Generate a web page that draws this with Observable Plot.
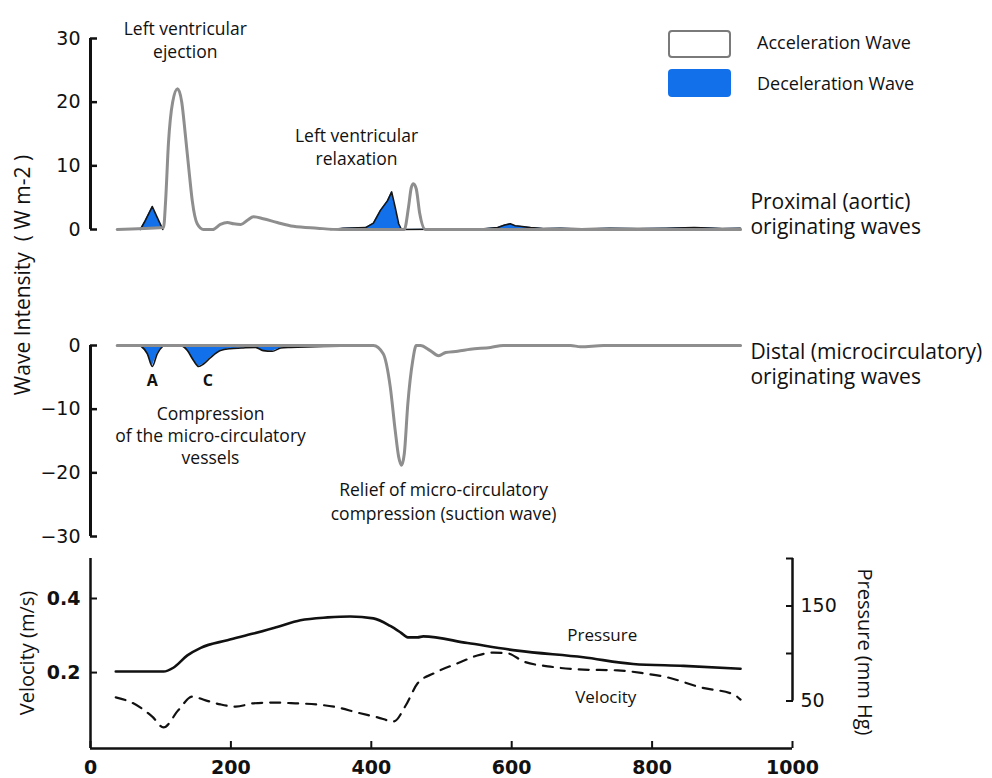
<!DOCTYPE html>
<html>
<head>
<meta charset="utf-8">
<script src="https://cdn.jsdelivr.net/npm/d3@7"></script>
<script src="https://cdn.jsdelivr.net/npm/@observablehq/plot@0.6"></script>
<style>
  body { margin: 0; background: #fff; }
  #chart { position: relative; width: 992px; height: 778px; overflow: hidden; font-family: "Open Sans", sans-serif; color: #111; background: #fff; }
  #chart svg { position: absolute; left: 0; }
  .vt { position: absolute; white-space: nowrap; font-size: 20px; transform: translate(-50%, -50%) rotate(-90deg); }
  .vt.big { font-size: 21px; }
  .vt.cw { transform: translate(-50%, -50%) rotate(90deg); }
  .key { position: absolute; left: 668px; width: 63px; height: 28px; box-sizing: border-box; border-radius: 4px; }
  .keytext { position: absolute; left: 757px; font-size: 18px; line-height: 1; white-space: nowrap; }
</style>
</head>
<body>
<div id="chart"></div>
<script>
// ---------- data ----------
const xDomain = [0, 1000];
const xTicks = [0, 200, 400, 600, 800, 1000];

// Proximal (aortic) originating waves, W m-2
const proxAccelT = [38, 104, 107, 111, 117, 124, 130, 135, 141, 145, 152, 161, 174, 185, 195, 204, 214, 224, 232, 246, 266, 289, 323, 356, 447, 453, 457, 460, 464, 469, 477, 926];
const proxAccelW = [0, 0.3, 4.5, 13.5, 20, 22.1, 20, 15, 8.5, 4.5, 0.9, 0, 0, 0.8, 1.1, 0.9, 0.8, 1.5, 2.0, 1.7, 1.1, 0.5, 0.2, 0, 0, 3.5, 6.6, 7.2, 6.4, 2.5, 0, 0];
const proxDecelT = [38, 71, 78, 88, 95, 103, 342, 360, 392, 403, 413, 423, 429, 434, 439, 443, 560, 580, 590, 598, 605, 612, 627, 645, 670, 700, 740, 780, 820, 860, 900, 926];
const proxDecelW = [0, 0, 1.4, 3.6, 1.9, 0, 0, 0.2, 0.3, 1.0, 3.0, 4.5, 5.9, 3.5, 0.9, 0, 0.1, 0.3, 0.7, 0.9, 0.6, 0.5, 0.3, 0.15, 0.2, 0.1, 0.2, 0.15, 0.2, 0.3, 0.15, 0.2];
const proxDomain = [0, 30];
const proxTicks = [0, 10, 20, 30];

// Distal (microcirculatory) originating waves, W m-2
const distAccelT = [38, 403, 417, 427, 434, 439, 443, 447, 452, 459, 464, 470, 484, 496, 506, 523, 541, 570, 588, 684, 698, 731, 926];
const distAccelW = [0, 0, -1.3, -6.5, -13.3, -17.5, -18.8, -17, -9.2, -2.4, 0, 0, -0.8, -1.6, -1.1, -0.9, -0.6, -0.3, 0, 0, -0.2, 0, 0];
const distDecelT = [38, 71, 81, 88, 95, 104, 125, 131, 138, 147, 154, 161, 171, 185, 199, 215, 235, 246, 259, 271, 285, 320, 356, 380, 926];
const distDecelW = [0, 0, -1.3, -3.3, -1.3, 0, 0, -0.1, -0.8, -2.4, -3.3, -2.9, -1.9, -0.8, -0.5, -0.4, -0.3, -0.8, -0.9, -0.4, -0.3, -0.2, -0.1, 0, 0];
const distDomain = [-30, 0];
const distTicks = [0, -10, -20, -30];

// Velocity (m/s) and pressure (mm Hg)
const velT = [36, 61, 88, 104, 125, 145, 164, 185, 207, 232, 261, 292, 322, 352, 380, 409, 432, 449, 466, 489, 523, 551, 574, 594, 617, 655, 702, 751, 788, 822, 869, 916, 926];
const velV = [0.133, 0.117, 0.081, 0.052, 0.098, 0.135, 0.125, 0.114, 0.108, 0.117, 0.119, 0.117, 0.114, 0.106, 0.092, 0.079, 0.068, 0.111, 0.171, 0.198, 0.225, 0.246, 0.254, 0.252, 0.230, 0.216, 0.208, 0.206, 0.198, 0.187, 0.160, 0.141, 0.127];
const presT = [36, 104, 118, 138, 157, 195, 232, 266, 299, 338, 370, 403, 427, 442, 452, 466, 474, 537, 608, 702, 773, 845, 926];
const presP = [81, 81, 85, 98, 106, 114, 121, 128, 135, 138, 139, 137, 129, 122, 117, 117, 118, 111, 103, 96, 89, 87, 84];
const velDomain = [-0.005, 0.508];
const velTicks = [0.2, 0.4];
const presDomain = [0, 200];
const presTicks = [50, 100, 150, 200];
const presTickLabels = [50, 150];

// Text
const proxNotes = ["Left ventricular\nejection", "Left ventricular\nrelaxation"];
const proxSide = ["Proximal (aortic)\noriginating waves"];
const distNotes = ["A", "C", "Compression\nof the micro-circulatory\nvessels", "Relief of micro-circulatory\ncompression (suction wave)"];
const distSide = ["Distal (microcirculatory)\noriginating waves"];
const lineNames = ["Pressure", "Velocity"];
const legendNames = ["Acceleration Wave", "Deceleration Wave"];
const yTitles = ["Wave Intensity\u00a0\u00a0( W m-2 )", "Velocity (m/s)", "Pressure (mm Hg)"];

// ---------- build ----------
const rows = (T, V, key) => T.map((t, i) => ({t, [key]: V[i]}));
// outline of the deceleration waves: break the line wherever it rests on the baseline
const outline = (R) => {
  const out = [];
  R.forEach((r, i) => {
    if (i > 0 && r.w === 0 && R[i - 1].w === 0) out.push({t: r.t, w: NaN});
    out.push(r);
  });
  return out;
};
const proxAccel = rows(proxAccelT, proxAccelW, "w");
const proxDecel = rows(proxDecelT, proxDecelW, "w");
const distAccel = rows(distAccelT, distAccelW, "w");
const distDecel = rows(distDecelT, distDecelW, "w");
const velocity = rows(velT, velV, "v");
const pressure = rows(presT, presP, "p");
const pToV = d3.scaleLinear(presDomain, velDomain);

const BLUE = "#1170ea";
const GRAY = "#8e8e8e";
const tickFont = {fontFamily: "DejaVu Sans", fontWeight: "bold", fontSize: 18};
const noteFont = {fontFamily: "Open Sans", fontSize: 17.5, fill: "#111"};
const common = {
  width: 992, marginLeft: 90, marginRight: 200,
  x: {domain: xDomain, axis: null},
  style: {background: "transparent", overflow: "visible", color: "#111"}
};

const chart = document.getElementById("chart");

// Panel 1: proximal
const p1 = Plot.plot({
  ...common, height: 262, marginTop: 38, marginBottom: 33,
  y: {domain: proxDomain, axis: null},
  marks: [
    Plot.areaY(proxDecel, {x: "t", y: "w", fill: BLUE}),
    Plot.lineY(outline(proxDecel), {x: "t", y: "w", stroke: "#151515", strokeWidth: 1.6}),
    Plot.lineY(proxAccel, {x: "t", y: "w", stroke: GRAY, strokeWidth: 3, curve: "monotone-x"}),
    Plot.ruleX([xDomain[0]], {y1: proxDomain[0], y2: proxDomain[1], strokeWidth: 3}),
    Plot.axisY({ticks: proxTicks, tickSize: -7, tickPadding: 17, strokeWidth: 2.5, label: null, ...tickFont, fontWeight: "normal", fontSize: 19}),
    Plot.text([proxNotes[0]], {x: 135, y: 33.1, text: d => d, lineAnchor: "top", lineHeight: 1.31, ...noteFont}),
    Plot.text([proxNotes[1]], {x: 379, y: 16.4, text: d => d, lineAnchor: "top", lineHeight: 1.35, ...noteFont}),
    Plot.text(proxSide, {x: 940, y: 6.1, text: d => d, textAnchor: "start", lineAnchor: "top", lineHeight: 1.22, ...noteFont, fontSize: 21})
  ]
});
p1.style.top = "0px";
chart.appendChild(p1);

// Panel 2: distal
const p2 = Plot.plot({
  ...common, height: 288, marginTop: 83, marginBottom: 14,
  y: {domain: distDomain, axis: null},
  marks: [
    Plot.areaY(distDecel, {x: "t", y: "w", fill: BLUE}),
    Plot.lineY(outline(distDecel), {x: "t", y: "w", stroke: "#151515", strokeWidth: 1.6, curve: "monotone-x"}),
    Plot.lineY(distAccel, {x: "t", y: "w", stroke: GRAY, strokeWidth: 3, curve: "monotone-x"}),
    Plot.ruleX([xDomain[0]], {y1: distDomain[0], y2: distDomain[1], strokeWidth: 3}),
    Plot.axisY({ticks: distTicks, tickSize: -7, tickPadding: 17, strokeWidth: 2.5, label: null, ...tickFont, fontWeight: "normal", fontSize: 19}),
    Plot.text([distNotes[0]], {x: 88, y: -4.65, text: d => d, lineAnchor: "top", ...noteFont, fontSize: 16, fontWeight: "bold"}),
    Plot.text([distNotes[1]], {x: 167, y: -4.65, text: d => d, lineAnchor: "top", ...noteFont, fontSize: 16, fontWeight: "bold"}),
    Plot.text([distNotes[2]], {x: 171, y: -9.2, text: d => d, lineAnchor: "top", lineHeight: 1.26, ...noteFont}),
    Plot.text([distNotes[3]], {x: 503, y: -21.1, text: d => d, lineAnchor: "top", lineHeight: 1.33, ...noteFont}),
    Plot.text(distSide, {x: 940, y: 0.8, text: d => d, textAnchor: "start", lineAnchor: "top", lineHeight: 1.22, ...noteFont, fontSize: 21})
  ]
});
p2.style.top = "262px";
chart.appendChild(p2);

// Panel 3: velocity & pressure
const p3 = Plot.plot({
  ...common, height: 228, marginTop: 8, marginBottom: 30,
  y: {domain: velDomain, axis: null},
  marks: [
    Plot.ruleY([velDomain[0]], {x1: xDomain[0], x2: xDomain[1], strokeWidth: 2.5}),
    Plot.ruleX([xDomain[0]], {y1: velDomain[0], y2: velDomain[1], strokeWidth: 2.5}),
    Plot.ruleX([xDomain[1]], {y1: pToV(presTicks[0]), y2: pToV(presTicks[presTicks.length - 1]), strokeWidth: 2.5}),
    Plot.axisX({ticks: xTicks, tickSize: -7, tickPadding: 19, strokeWidth: 2, label: null, tickFormat: d3.format("d"), ...tickFont, fontSize: 19}),
    Plot.axisY({ticks: velTicks, tickSize: -7, tickPadding: 17, strokeWidth: 2, label: null, tickFormat: d3.format(".1f"), ...tickFont, fontSize: 19}),
    Plot.axisY({anchor: "right", ticks: presTicks.map(pToV), tickSize: -7, tickPadding: 15, strokeWidth: 2, label: null,
      tickFormat: v => { const p = Math.round(pToV.invert(v)); return presTickLabels.includes(p) ? String(p) : ""; },
      ...tickFont, fontWeight: "normal", fontSize: 19}),
    Plot.line(pressure, {x: "t", y: d => pToV(d.p), stroke: "#111", strokeWidth: 2.6, curve: "monotone-x"}),
    Plot.line(velocity, {x: "t", y: "v", stroke: "#111", strokeWidth: 2.2, strokeDasharray: "10,8", curve: "monotone-x"}),
    Plot.text([lineNames[0]], {x: 729, y: 0.319, text: d => d, lineAnchor: "top", ...noteFont, fontSize: 17}),
    Plot.text([lineNames[1]], {x: 734, y: 0.150, text: d => d, lineAnchor: "top", ...noteFont, fontSize: 17})
  ]
});
p3.style.top = "550px";
chart.appendChild(p3);

// Legend (HTML)
const k1 = document.createElement("div");
k1.className = "key"; k1.style.top = "30px"; k1.style.border = "2px solid #7a7a7a"; k1.style.background = "#fff";
const k2 = document.createElement("div");
k2.className = "key"; k2.style.top = "69px"; k2.style.background = BLUE;
chart.append(k1, k2);
legendNames.forEach((name, i) => {
  const t = document.createElement("div");
  t.className = "keytext"; t.textContent = name;
  t.style.top = (i === 0 ? 33 : 74) + "px";
  chart.appendChild(t);
});

// Rotated axis titles (HTML)
const titlePos = [[22, 275, "big"], [26, 653, ""], [865, 652, "cw"]];
yTitles.forEach((txt, i) => {
  const d = document.createElement("div");
  d.className = "vt " + titlePos[i][2];
  d.style.left = titlePos[i][0] + "px";
  d.style.top = titlePos[i][1] + "px";
  d.textContent = txt;
  chart.appendChild(d);
});
</script>
</body>
</html>
